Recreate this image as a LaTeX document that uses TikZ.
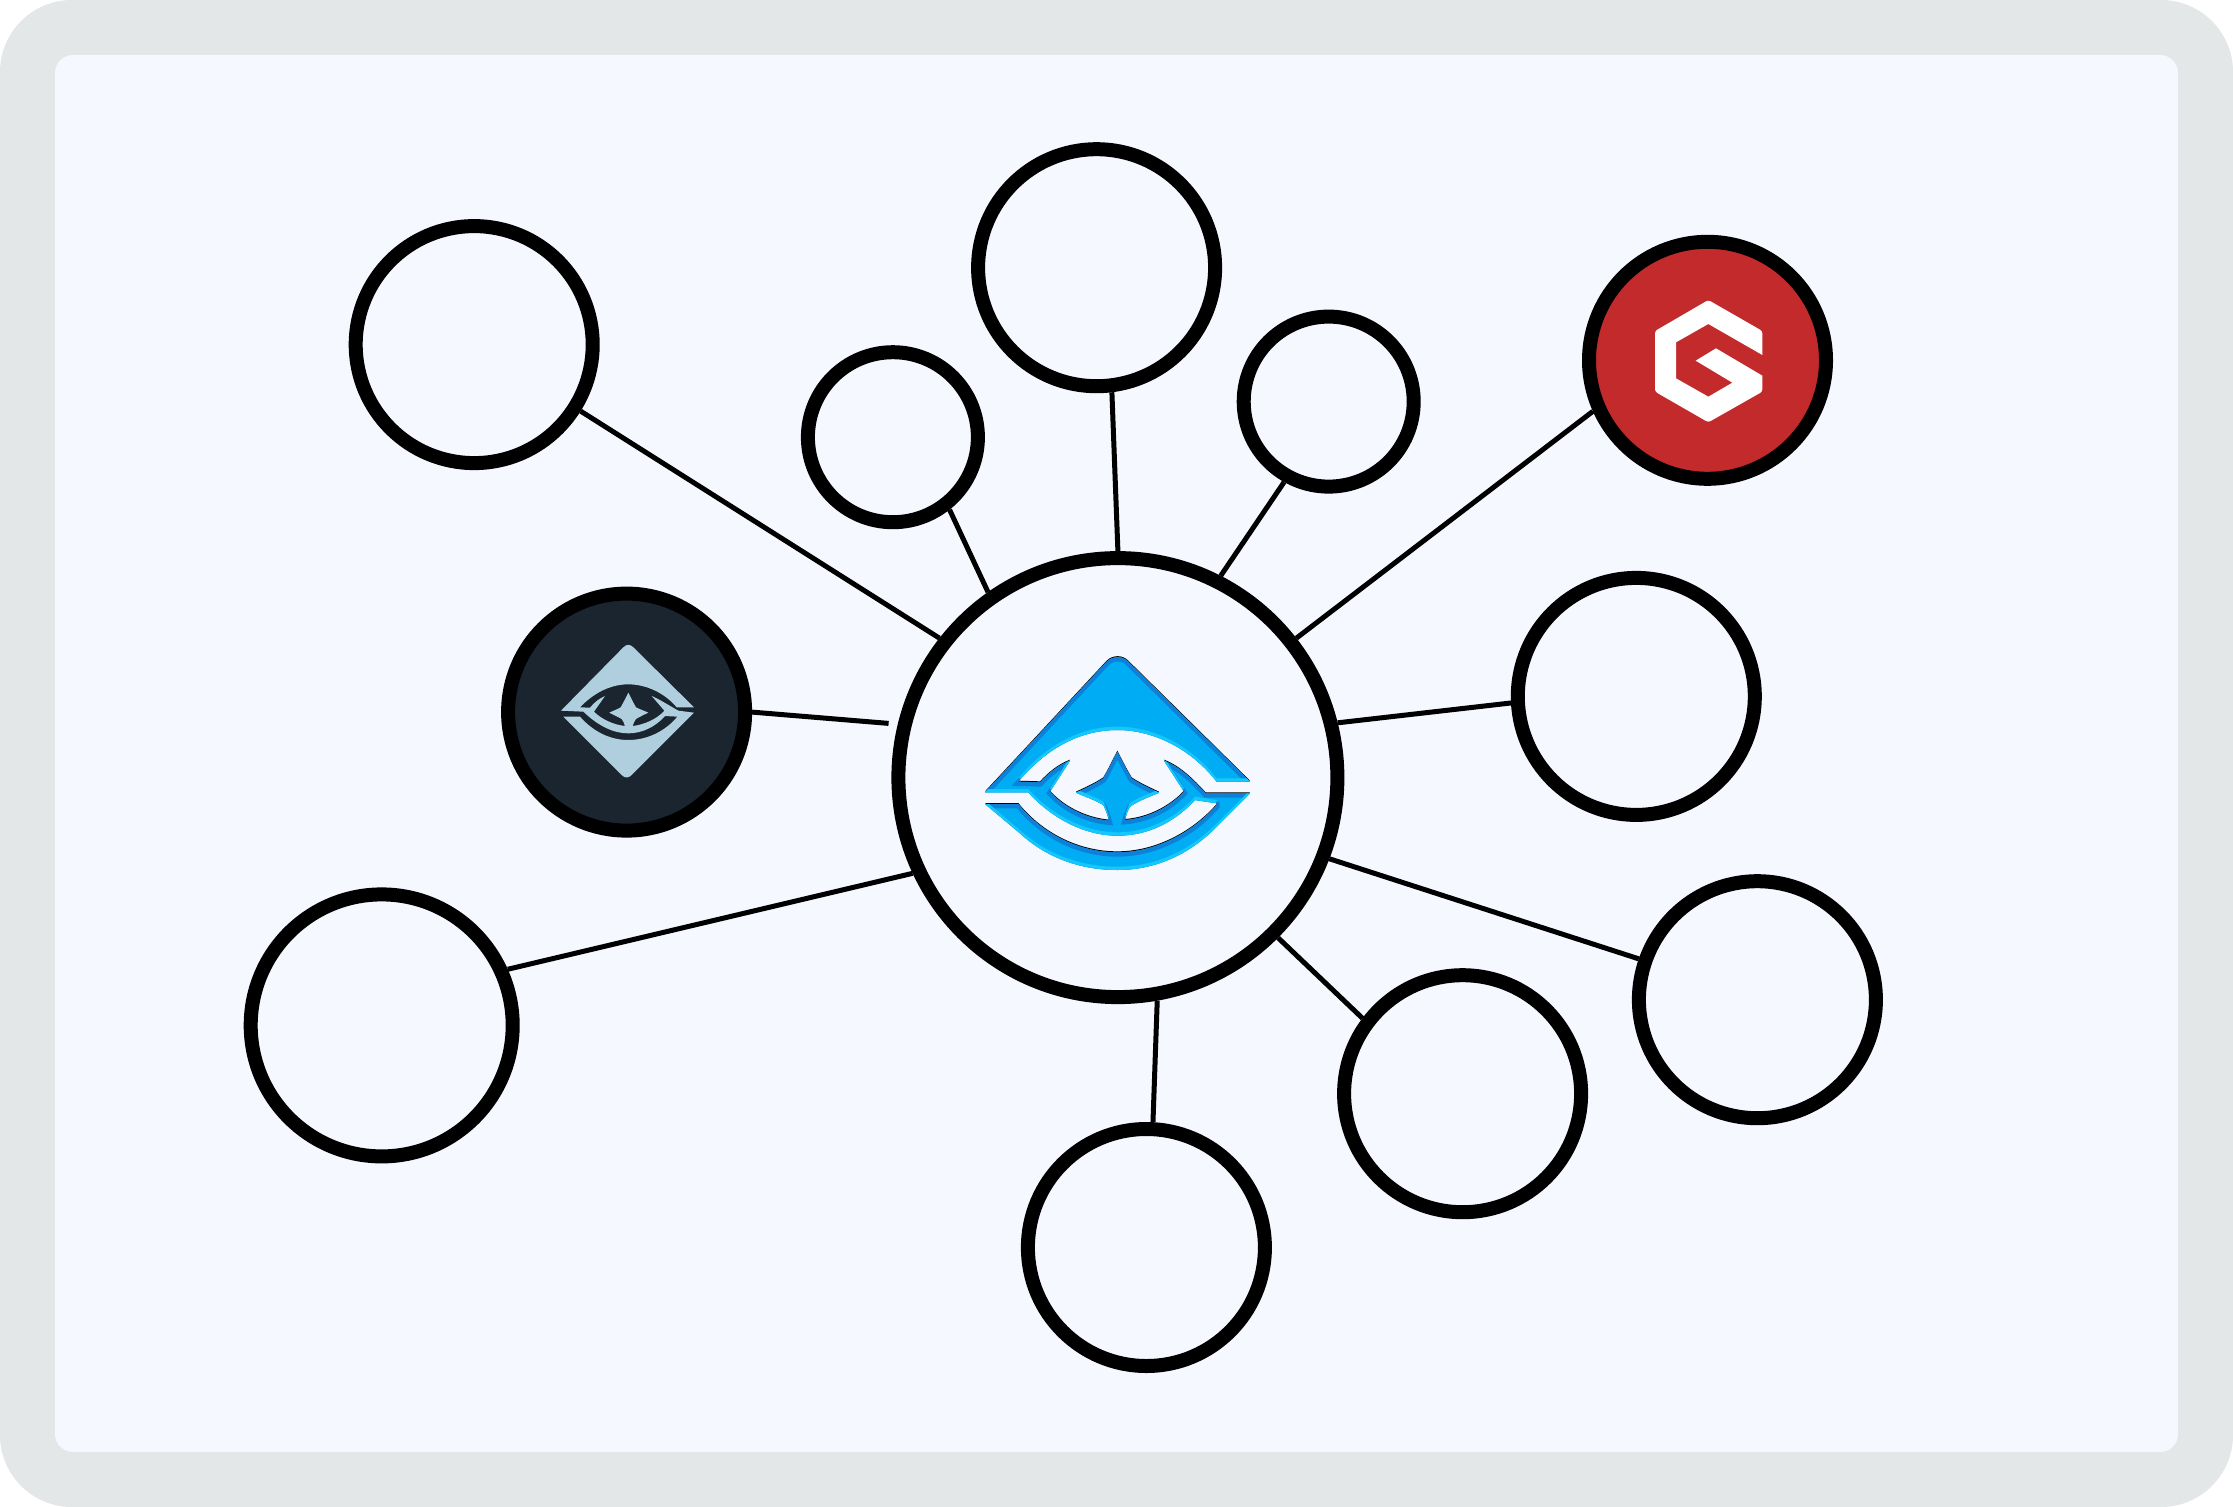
\documentclass[tikz,border=0pt]{standalone}
\definecolor{frameC}{HTML}{E3E7E8}
\definecolor{paperC}{HTML}{F5F8FF}
\definecolor{redC}{HTML}{C32A2B}
\definecolor{darkC}{HTML}{1A2530}
\definecolor{paleC}{HTML}{AFCFDF}
\definecolor{blueMain}{HTML}{00ADF4}
\definecolor{blueDark}{HTML}{0F80D8}
\definecolor{blueLight}{HTML}{14C8FB}
\tikzset{
  ring/.style={circle,draw=black,line width=14pt,inner sep=0pt,fill=paperC},
  ringS/.style={ring,minimum size=170pt},
  ringM/.style={ring,minimum size=237pt},
  ringL/.style={ring,minimum size=262pt},
  ringC/.style={ring,minimum size=439pt},
  link/.style={draw=black,line width=5pt},
}
\newcommand{\logopath}{(75,457) -- (440,65) .. controls (458,47) and (488,47) .. (505,65) -- (870,425) -- (770,425)
  .. controls (700,335) and (590,270) .. (472,270) .. controls (350,270) and (250,335) .. (175,425) -- (240,427)
  .. controls (265,400) and (295,375) .. (330,362) -- (270,455) .. controls (310,500) and (375,535) .. (447,542)
  .. controls (443,525) and (437,510) .. (430,495) .. controls (405,480) and (375,470) .. (348,458)
  .. controls (375,445) and (405,432) .. (430,415) .. controls (445,390) and (458,362) .. (472,335)
  .. controls (486,362) and (500,390) .. (515,415) .. controls (540,432) and (570,445) .. (597,458)
  .. controls (570,470) and (535,482) .. (510,500) .. controls (503,512) and (498,525) .. (495,540)
  .. controls (565,535) and (630,500) .. (672,455) -- (612,362) .. controls (660,380) and (700,420) .. (737,460) -- (870,460)
  -- (765,565) .. controls (690,640) and (590,690) .. (472,690) .. controls (350,690) and (250,645) .. (180,580) -- (75,492)
  -- (175,492) .. controls (250,585) and (360,637) .. (472,637) .. controls (590,637) and (700,575) .. (770,495) -- (770,490) -- (705,480)
  .. controls (640,550) and (560,587) .. (472,587) .. controls (370,587) and (270,530) .. (205,457) -- cycle}
\begin{document}
\begin{tikzpicture}[x=1pt,y=-1pt]
\useasboundingbox (0,0) rectangle (2233,1507);
\fill[white] (0,0) rectangle (2233,1507);
\fill[frameC,rounded corners=72pt] (0,0) rectangle (2233,1507);
\fill[paperC,rounded corners=18pt] (55,55) rectangle (2178,1452);

\node[ringC] (hub) at (1117.9,777.6) {};
\node[ringM] (tl) at (474.2,344.6) {};
\node[ringM] (tp) at (1096.6,267.7) {};
\node[ringS] (sl) at (892.9,437.2) {};
\node[ringS] (sr) at (1328.7,401.6) {};
\node[ringM,fill=redC] (rd) at (1707.5,360.3) {};
\node[ringM] (rt) at (1636.3,696.4) {};
\node[ringM,fill=darkC] (dk) at (626.6,712.1) {};
\node[ringL] (lb) at (381.7,1025.4) {};
\node[ringM] (fr) at (1757.4,999.7) {};
\node[ringM] (lr) at (1462.6,1093.7) {};
\node[ringM] (bt) at (1146.4,1247.5) {};
\coordinate (free) at (888.6,723.4);

\draw[link] (hub.142.9) -- (tl.-32.4);
\draw[link] (hub.125.1) -- (sl.-52.6);
\draw[link] (hub.90) -- (tp.-83.4);
\draw[link] (hub.63.8) -- (sr.-119);
\draw[link] (hub.38.8) -- (rd.-156.6);
\draw[link] (hub.14.2) -- (rt.-177.1);
\draw[link] (hub.-21.2) -- (fr.161.6);
\draw[link] (hub.-45) -- (lr.143.8);
\draw[link] (hub.-80.1) -- (bt.87.4);
\draw[link] (hub.-155.5) -- (lb.24.2);
\draw[link] (dk.0) -- (free);

% hub logo
\begin{scope}[shift={(960,640)},x=0.33333pt,y=-0.33333pt]
  \begin{scope}[shift={(0,-3)}]
    \fill[black] \logopath;
  \end{scope}
  \fill[blueMain] \logopath;
  \begin{scope}
    \clip \logopath;
    \begin{scope}[shift={(0,4)}]
      \draw[blueDark,line width=6pt] \logopath;
    \end{scope}
    \begin{scope}[shift={(0,-10)}]
      \fill[blueLight,even odd rule] (-100,-100) rectangle (1100,900) \logopath;
    \end{scope}
  \end{scope}
\end{scope}

% dark circle logo
\begin{scope}[shift={(530,620)},x=0.33333pt,y=-0.33333pt]
  \fill[paleC] (93,272) -- (280,82) .. controls (290,72) and (300,72) .. (310,82) -- (492,262) -- (440,262)
    .. controls (405,220) and (350,193) .. (295,193) .. controls (240,193) and (190,220) .. (150,262) -- (180,263)
    .. controls (192,248) and (208,235) .. (225,228) -- (192,275) .. controls (215,298) and (250,314) .. (285,318)
    .. controls (283,310) and (279,303) .. (275,297) .. controls (262,290) and (250,284) .. (238,278)
    .. controls (250,272) and (262,268) .. (272,262) .. controls (280,248) and (288,232) .. (295,218)
    .. controls (302,232) and (310,248) .. (318,262) .. controls (330,268) and (342,272) .. (355,278)
    .. controls (342,284) and (330,290) .. (318,297) .. controls (314,303) and (310,310) .. (308,318)
    .. controls (342,314) and (380,298) .. (403,272) -- (365,228) .. controls (385,236) and (415,255) .. (445,272) -- (492,278)
    -- (305,465) .. controls (295,475) and (285,475) .. (275,465) -- (100,290) -- (150,290)
    .. controls (190,335) and (240,360) .. (295,360) .. controls (350,360) and (405,335) .. (442,290) -- (405,288)
    .. controls (375,322) and (335,340) .. (295,340) .. controls (250,340) and (205,318) .. (160,275) -- cycle;
\end{scope}

% red circle logo
\begin{scope}[shift={(1630,280)},x=0.33333pt,y=-0.33333pt]
  \fill[white] (397,225) -- (235,132) -- (138,187) -- (138,295) -- (235,350)
    -- (307,308) -- (197,242) -- (258,205) -- (397,287) [rounded corners=2.5pt] -- (397,335) -- (235,427) -- (75,335) -- (75,153) -- (235,60) -- (397,153) -- (397,190) [sharp corners] -- cycle;
\end{scope}
\end{tikzpicture}
\end{document}
